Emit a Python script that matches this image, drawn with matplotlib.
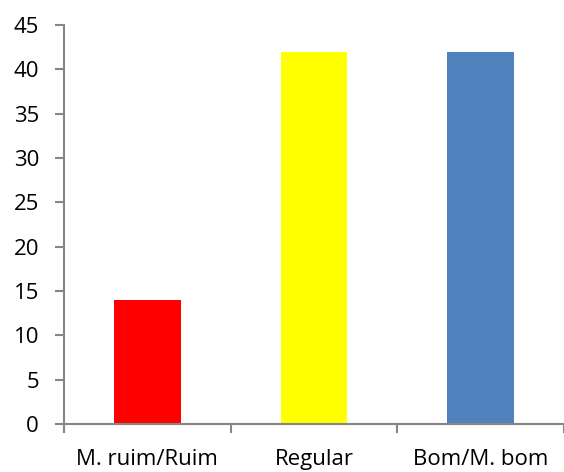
import matplotlib
matplotlib.use("Agg")
import matplotlib.pyplot as plt
import numpy as np

categories = ["M. ruim/Ruim", "Regular", "Bom/M. bom"]
values = [14, 42, 42]
colors = ["#FF0000", "#FFFF00", "#4F81BD"]
yticks = [0, 5, 10, 15, 20, 25, 30, 35, 40, 45]

plt.rcParams['font.family'] = ['Open Sans', 'DejaVu Sans']

fig = plt.figure(figsize=(5.64, 4.72), dpi=100)
ax = fig.add_axes([64/564, 48/472, 1 - 64/564, (424-25)/472])

x = np.arange(len(categories)) + 0.5
ax.bar(x, values, width=0.4, color=colors, zorder=2)

ax.set_xlim(0, 3)
ax.set_ylim(0, 45)
ax.set_yticks(yticks)
ax.set_xticks([0, 1, 2, 3])
ax.set_xticklabels([])
ax.set_xticks(x, minor=True)
ax.set_xticklabels(categories, minor=True)
ax.tick_params(axis='x', which='minor', length=0, pad=18, labelsize=16)
ax.tick_params(axis='x', which='major', length=6.5, width=1.5, color='#868686', direction='out')
ax.tick_params(axis='y', length=6.5, width=1.5, color='#868686', direction='out', labelsize=16, pad=11.5)

for s in ['top', 'right']:
    ax.spines[s].set_visible(False)
for s in ['left', 'bottom']:
    ax.spines[s].set_color('#868686')
    ax.spines[s].set_linewidth(1.5)

fig.savefig("out.png", dpi=100)
